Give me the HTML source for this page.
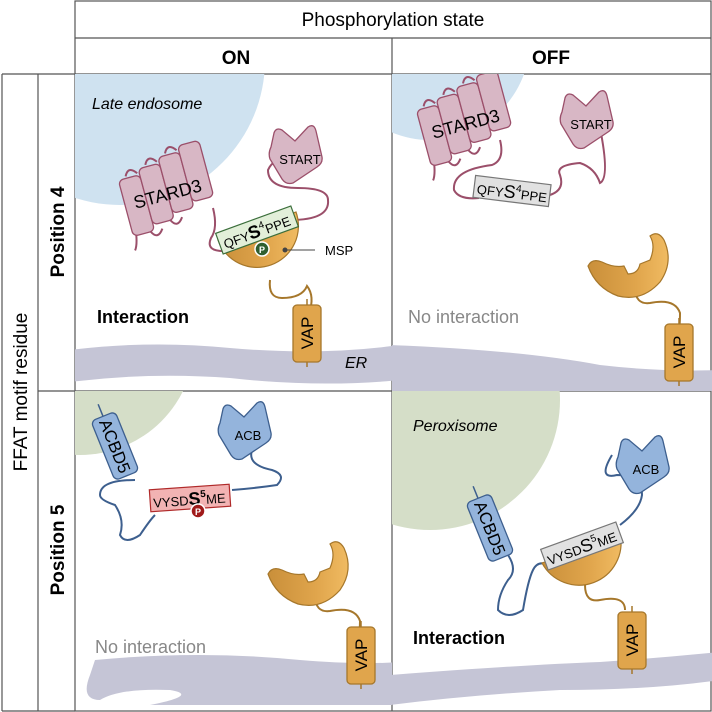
<!DOCTYPE html>
<html><head><meta charset="utf-8"><style>html,body{margin:0;padding:0;background:#fff}svg{display:block}text{font-family:"Liberation Sans",sans-serif}</style></head>
<body>
<svg width="712" height="712" viewBox="0 0 712 712" xmlns="http://www.w3.org/2000/svg">
<defs>
<linearGradient id="og" x1="0" x2="1" y1="0" y2="0"><stop offset="0" stop-color="#c98f3a"/><stop offset="0.6" stop-color="#e0a54c"/><stop offset="1" stop-color="#f0bb62"/></linearGradient>
<clipPath id="c1"><rect x="75" y="74" width="317" height="317"/></clipPath>
<clipPath id="c2"><rect x="392" y="74" width="320" height="317"/></clipPath>
<clipPath id="c3"><rect x="75" y="391" width="317" height="320"/></clipPath>
<clipPath id="c4"><rect x="392" y="391" width="320" height="320"/></clipPath>
<g id="stard">
<path d="M-40,-30 q5,-10 12,0 M-18,-36 q5,-10 12,0 M4,-42 q5,-10 12,0 M-30,30 q5,10 12,0 M-8,24 q5,10 12,0 M-44,24 q-2,15 -6,20" fill="none" stroke="#9b4f6a" stroke-width="2"/>
<rect x="-48" y="-28" width="22" height="58" rx="5" fill="#d8b7c5" stroke="#9b4f6a" stroke-width="1.3"/>
<rect x="-26" y="-34" width="22" height="58" rx="5" fill="#d8b7c5" stroke="#9b4f6a" stroke-width="1.3"/>
<rect x="-4" y="-40" width="22" height="58" rx="5" fill="#d8b7c5" stroke="#9b4f6a" stroke-width="1.3"/>
<rect x="18" y="-46" width="22" height="58" rx="5" fill="#d8b7c5" stroke="#9b4f6a" stroke-width="1.3"/>
<text x="-4" y="4" font-size="18" text-anchor="middle">STARD3</text>
</g>
<path id="start" d="M-24,-24 Q-22,-30 -16,-27 L-3,-16 L10,-30 Q16,-34 18,-26 L24,0 Q25,6 19,10 L-5,26 Q-12,28 -16,22 L-28,2 Q-30,-4 -27,-10 Z" fill="#d8b7c5" stroke="#9b4f6a" stroke-width="1.3"/>
<path id="acb" d="M-24,-24 Q-22,-30 -16,-27 L-3,-16 L10,-30 Q16,-34 18,-26 L24,0 Q25,6 19,10 L-5,26 Q-12,28 -16,22 L-28,2 Q-30,-4 -27,-10 Z" fill="#94b4dc" stroke="#3d5f8e" stroke-width="1.3"/>
<path id="cres" d="M-44,-14 Q-40,-22 -30,-18 Q-18,-12 -8,-14 L-4,-6 Q6,-6 8,-16 L18,-20 Q24,-34 18,-44 Q26,-50 32,-40 Q42,-18 28,2 Q10,22 -14,16 Q-36,8 -44,-14 Z" fill="url(#og)" stroke="#a6772b" stroke-width="1.2"/>
<g id="vap"><line x1="0" y1="-34" x2="0" y2="34" stroke="#a6772b" stroke-width="1.5"/><rect x="-14" y="-28" width="28" height="57" rx="4" fill="#e0a54c" stroke="#a6772b" stroke-width="1.3"/><text font-size="17" text-anchor="middle" transform="rotate(-90) translate(0,6)">VAP</text></g>
</defs>

<!-- grid -->
<g stroke="#555" stroke-width="1.2" fill="none">
<rect x="75" y="1" width="636" height="710"/>
<line x1="75" y1="38" x2="711" y2="38"/>
<line x1="2" y1="74" x2="711" y2="74"/>
<line x1="2" y1="74" x2="2" y2="711"/><line x1="2" y1="711" x2="75" y2="711"/>
<line x1="38" y1="74" x2="38" y2="711"/>
<line x1="392" y1="38" x2="392" y2="711"/>
<line x1="38" y1="391" x2="711" y2="391"/>
</g>
<text x="393" y="26" font-size="19" text-anchor="middle">Phosphorylation state</text>
<text x="236" y="64" font-size="19" font-weight="bold" text-anchor="middle">ON</text>
<text x="551" y="64" font-size="19" font-weight="bold" text-anchor="middle">OFF</text>
<text transform="translate(27,392) rotate(-90)" font-size="19" text-anchor="middle">FFAT motif residue</text>
<text transform="translate(64,232) rotate(-90)" font-size="19" font-weight="bold" text-anchor="middle">Position 4</text>
<text transform="translate(64,550) rotate(-90)" font-size="19" font-weight="bold" text-anchor="middle">Position 5</text>

<!-- panel 1 -->
<g clip-path="url(#c1)">
<circle cx="120" cy="60" r="145" fill="#cfe2f0"/>
<path d="M70,350 Q150,340 230,348 Q320,356 400,345 L400,380 Q320,388 230,378 Q150,372 70,382 Z" fill="#c5c5d6"/>
<text x="92" y="109" font-size="16" font-style="italic">Late endosome</text>
<path d="M213,208 q5,20 -2,30 q-6,14 15,13" fill="none" stroke="#9b4f6a" stroke-width="2"/>
<path d="M290,220 q40,0 38,-20 q0,-12 -30,-12 q-30,0 -30,-18 q5,-12 25,-14" fill="none" stroke="#9b4f6a" stroke-width="2"/>
<use href="#stard" transform="translate(172,195) rotate(-15)"/>
<use href="#start" x="298" y="157"/>
<text x="300" y="164" font-size="13" text-anchor="middle">START</text>
<path d="M270,280 q-2,18 12,18 q20,0 25,-12 q8,10 2,28" fill="none" stroke="#a6772b" stroke-width="2"/>
<path d="M218,240 L296,212 A41,41 0 0 1 218,240 Z" fill="url(#og)" stroke="#a6772b" stroke-width="1.2"/>
<g transform="translate(257,230) rotate(-20)"><rect x="-40" y="-11" width="80" height="22" fill="#e2efd9" stroke="#3b6e3b" stroke-width="1.2"/><text x="-36" y="7" font-size="13">QFY<tspan font-weight="bold" font-size="18">S</tspan><tspan dy="-7" font-size="10">4</tspan><tspan dy="7">PPE</tspan></text></g>
<circle cx="262" cy="249" r="7" fill="#2f5e2f" stroke="#fff" stroke-width="1.5"/><text x="262" y="253" font-size="9" fill="#fff" text-anchor="middle" font-weight="bold">P</text>
<circle cx="285" cy="250" r="2.5" fill="#444"/><line x1="285" y1="250" x2="315" y2="250" stroke="#444" stroke-width="1"/>
<text x="325" y="255" font-size="13">MSP</text>
<use href="#vap" x="307" y="333"/>
<text x="345" y="368" font-size="16" font-style="italic">ER</text>
<text x="97" y="323" font-size="18" font-weight="bold">Interaction</text>
</g>

<!-- panel 2 -->
<g clip-path="url(#c2)">
<circle cx="430" cy="40" r="100" fill="#cfe2f0"/>
<path d="M390,345 Q520,350 600,365 Q660,372 720,370 L720,395 L390,395 Z" fill="#c5c5d6"/>
<path d="M500,140 q5,20 -8,25 q-40,5 -38,25 q5,10 25,8 M550,195 q15,-5 10,-20 q-5,-10 20,-12 q15,5 20,20 q10,-5 0,-55" fill="none" stroke="#9b4f6a" stroke-width="2"/>
<use href="#stard" transform="translate(470,125) rotate(-15)"/>
<use href="#start" x="589" y="122"/>
<text x="591" y="129" font-size="13" text-anchor="middle">START</text>
<g transform="translate(512,191) rotate(7)"><rect x="-38" y="-11" width="76" height="22" fill="#e1e1e1" stroke="#777" stroke-width="1.2"/><text x="-35" y="7" font-size="13">QFY<tspan font-size="18">S</tspan><tspan dy="-7" font-size="10">4</tspan><tspan dy="7">PPE</tspan></text></g>
<path d="M635,287 q0,18 15,16 q25,-5 30,10 q0,15 -2,20" fill="none" stroke="#a6772b" stroke-width="2"/>
<use href="#cres" x="632" y="280"/>
<use href="#vap" x="679" y="352"/>
<text x="408" y="323" font-size="18" fill="#888">No interaction</text>
</g>

<!-- panel 3 -->
<g clip-path="url(#c3)">
<circle cx="80" cy="340" r="115" fill="#d5dec8"/>
<path d="M95,660 Q200,650 300,660 Q360,665 400,662 L400,705 L150,705 Q200,695 170,690 Q120,688 100,700 Q80,700 90,675 Z" fill="#c5c5d6"/>
<path d="M135,480 q-35,0 -35,15 q0,5 15,10 q10,15 5,30 q5,10 20,0 q10,-15 15,-20 M232,490 q25,-2 45,-5 q10,-10 -5,-15 q-25,-5 -20,-20" fill="none" stroke="#3d5f8e" stroke-width="2"/>
<g transform="translate(115,446) rotate(68)"><line x1="-45" y1="0" x2="-30" y2="0" stroke="#3d5f8e" stroke-width="1.5"/><rect x="-32" y="-13" width="64" height="26" rx="5" fill="#94b4dc" stroke="#3d5f8e" stroke-width="1.3"/><text x="0" y="6" font-size="17" text-anchor="middle">ACBD5</text></g>
<use href="#acb" x="247" y="433"/>
<text x="248" y="440" font-size="13" text-anchor="middle">ACB</text>
<g transform="translate(190,498) rotate(-4)"><rect x="-40" y="-11" width="80" height="22" fill="#f2b3b3" stroke="#b02a2a" stroke-width="1.2"/><text x="-37" y="7" font-size="13">VYSD<tspan font-weight="bold" font-size="18">S</tspan><tspan dy="-7" font-size="10" font-weight="bold">5</tspan><tspan dy="7">ME</tspan></text></g>
<circle cx="198" cy="511" r="7" fill="#a01a1a" stroke="#fff" stroke-width="1.5"/><text x="198" y="515" font-size="9" fill="#fff" text-anchor="middle" font-weight="bold">P</text>
<path d="M315,595 q0,18 15,16 q25,-5 30,10 q0,10 -2,15" fill="none" stroke="#a6772b" stroke-width="2"/>
<use href="#cres" x="312" y="588"/>
<use href="#vap" x="361" y="655"/>
<text x="95" y="653" font-size="18" fill="#888">No interaction</text>
</g>

<!-- panel 4 -->
<g clip-path="url(#c4)">
<circle cx="430" cy="400" r="130" fill="#d5dec8"/>
<path d="M390,675 Q520,665 600,662 Q660,658 720,652 L720,680 Q650,690 560,690 Q470,695 390,705 Z" fill="#c5c5d6"/>
<path d="M508,555 q10,15 0,25 q-10,15 -10,30 q10,10 25,0 q5,-30 10,-40 q5,-10 15,-5 M620,525 q20,-15 22,-30 q0,-20 -25,-20 q-20,5 -5,-20" fill="none" stroke="#3d5f8e" stroke-width="2"/>
<path d="M585,585 q0,18 15,15 q25,-5 25,10" fill="none" stroke="#a6772b" stroke-width="2"/>
<g transform="translate(490,528) rotate(68)"><line x1="-45" y1="0" x2="-30" y2="0" stroke="#3d5f8e" stroke-width="1.5"/><rect x="-32" y="-13" width="64" height="26" rx="5" fill="#94b4dc" stroke="#3d5f8e" stroke-width="1.3"/><text x="0" y="6" font-size="17" text-anchor="middle">ACBD5</text></g>
<use href="#acb" x="645" y="467"/>
<text x="646" y="474" font-size="13" text-anchor="middle">ACB</text>
<path d="M542,563 L620,534 A42,42 0 0 1 542,563 Z" fill="url(#og)" stroke="#a6772b" stroke-width="1.2"/>
<g transform="translate(582,546) rotate(-20)"><rect x="-40" y="-11" width="80" height="22" fill="#e1e1e1" stroke="#777" stroke-width="1.2"/><text x="-37" y="7" font-size="13">VYSD<tspan font-size="18">S</tspan><tspan dy="-7" font-size="10">5</tspan><tspan dy="7">ME</tspan></text></g>
<use href="#vap" x="632" y="640"/>
<text x="413" y="431" font-size="16" font-style="italic">Peroxisome</text>
<text x="413" y="644" font-size="18" font-weight="bold">Interaction</text>
</g>
</svg>
</body></html>
